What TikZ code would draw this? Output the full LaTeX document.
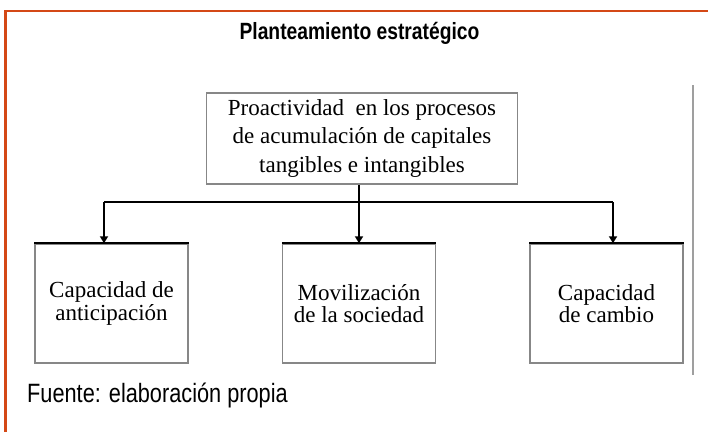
\documentclass[tikz,border=0pt]{standalone}
\usepackage{fontspec}
\setmainfont{Liberation Serif}
\newfontfamily\narrowfont[FakeStretch=0.82]{Liberation Sans}
\usetikzlibrary{arrows.meta}
\definecolor{frameorange}{RGB}{212,72,22}
\definecolor{boxgray}{RGB}{135,135,135}
\begin{document}
\begin{tikzpicture}[x=1pt,y=-1pt,
  box/.style={draw=boxgray,line width=1.5pt,rectangle,inner sep=0pt,align=center,
    font=\fontsize{23}{22.5}\selectfont},
  conn/.style={draw=black,line width=2pt},
  arr/.style={conn,-{Triangle[length=7pt,width=8pt]}},
]
\useasboundingbox (0,0) rectangle (708,431);
\fill[white] (0,0) rectangle (708,431);
% frame
\draw[frameorange,line width=2.5pt] (5.5,440) -- (5.5,11) -- (720,11);
% side rule
\draw[gray!75,line width=2pt] (693,85) -- (693,375);
% title
\node[anchor=base,inner sep=0pt,font=\narrowfont\bfseries\fontsize{23.5}{28}\selectfont] (title) at (359.5,39) {Planteamiento estratégico};
% boxes
\node[box,minimum width=311pt,minimum height=91pt,font=\fontsize{23}{28.5}\selectfont] (top) at (362,138.5)
  {Proactividad\ \ en los procesos\\de acumulación de capitales\\tangibles e intangibles};
\node[box,minimum width=153pt,minimum height=119pt] (left) at (111.5,303.5) {Capacidad de\\anticipación};
\node[box,minimum width=153pt,minimum height=119pt] (mid) at (359,303.5) {Movilización\\de la sociedad};
\node[box,minimum width=153pt,minimum height=119pt] (right) at (606.5,303.5) {Capacidad\\de cambio};
% black top edges
\draw[conn] (left.north west) -- (left.north east);
\draw[conn] (mid.north west) -- (mid.north east);
\draw[conn] (right.north west) -- (right.north east);
% connectors
\coordinate (lt) at (104,202);
\coordinate (rt) at (613,202);
\coordinate (mt) at (359,202);
\draw[conn] (lt) -- (rt);
\draw[conn] (top.south -| mt) -- (mt);
\draw[arr] (lt) -- (lt |- left.north);
\draw[arr] (mt) -- (mid.north);
\draw[arr] (rt) -- (rt |- right.north);
% source
\node[anchor=base west,inner sep=0pt,font=\narrowfont\fontsize{26.5}{30}\selectfont] (src) at (27,402) {Fuente: elaboración propia};
\end{tikzpicture}
\end{document}
